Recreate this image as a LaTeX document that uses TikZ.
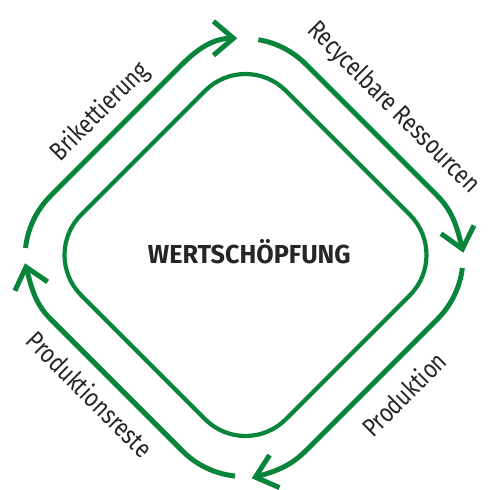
\documentclass[tikz,border=0pt]{standalone}
\usepackage{fontspec}
\setmainfont{Fira Sans}[FakeStretch=0.86]
\newfontfamily\labfont{Fira Sans}[FakeStretch=0.82]
\newfontfamily\titlefont{Fira Sans}[UprightFont=* Bold, FakeStretch=0.97]
\usetikzlibrary{arrows.meta,calc}
\definecolor{ringgreen}{RGB}{8,133,58}
\definecolor{txtgray}{RGB}{38,38,38}
\begin{document}
\begin{tikzpicture}[x=1pt,y=1pt,
  ringline/.style={draw=ringgreen, line width=5pt, line cap=butt},
  ringarrow/.style={ringline, -{Straight Barb[length=20pt, width=34pt]}},
  innerline/.style={draw=ringgreen, line width=4.2pt},
  lab/.style={text=txtgray, font=\labfont\fontsize{26}{30}\selectfont, inner sep=0pt},
  title/.style={text=txtgray, font=\titlefont\fontsize{26}{30}\selectfont, inner sep=0pt}]
\useasboundingbox (0,0) rectangle (489,490);
% corner centres of the outer ring and arrow tips
\coordinate (Lc) at (112,232.5);
\coordinate (Tc) at (244,364.5);
\coordinate (Rc) at (376,232.5);
\coordinate (Bc) at (244,100.5);
\coordinate (tipT) at (237.3,451.7);
\coordinate (tipR) at (463.3,237.3);
\coordinate (tipB) at (251.7,11.7);
\coordinate (tipL) at (25,226.7);
% inner rounded diamond
\draw[innerline, rounded corners=57pt] (143.2,337.3) -- (245.5,439.6) -- (450.1,235) -- (245.5,30.4) -- (40.9,235) -- cycle;
% outer arrows
\draw[ringarrow] ($(Lc)+(173.7:87)$) arc[start angle=173.7, end angle=135, radius=87]
  -- ($(Tc)+(135:87)$) .. controls ($(Tc)+(135:87)+(45:23)$) and ($(tipT)+(180:23)$) .. (tipT);
\draw[ringarrow] ($(Tc)+(80.5:87)$) arc[start angle=80.5, end angle=45, radius=87]
  -- ($(Rc)+(45:87)$) .. controls ($(Rc)+(45:87)+(-45:23)$) and ($(tipR)+(104:23)$) .. (tipR);
\draw[ringarrow] ($(Rc)+(-6.9:87)$) arc[start angle=-6.9, end angle=-45, radius=87]
  -- ($(Bc)+(-45:87)$) .. controls ($(Bc)+(-45:87)+(-135:23)$) and ($(tipB)+(17:23)$) .. (tipB);
\draw[ringarrow] ($(Bc)+(264.1:87)$) arc[start angle=264.1, end angle=225, radius=87]
  -- ($(Lc)+(225:87)$) .. controls ($(Lc)+(225:87)+(135:23)$) and ($(tipL)+(-74.7:23)$) .. (tipL);
% labels
\node[lab, rotate=45] (brik) at (100,378) {Brikettierung};
\node[lab, rotate=-45] (recy) at (393,382) {Recycelbare Ressourcen};
\node[lab, rotate=45] (prod) at (404,96) {Produktion};
\node[lab, rotate=-45] (rest) at (90,96) {Produktionsreste};
\node[title, anchor=base] (wert) at (249.3,226.7) {WERTSCHÖPFUNG};
\end{tikzpicture}
\end{document}
